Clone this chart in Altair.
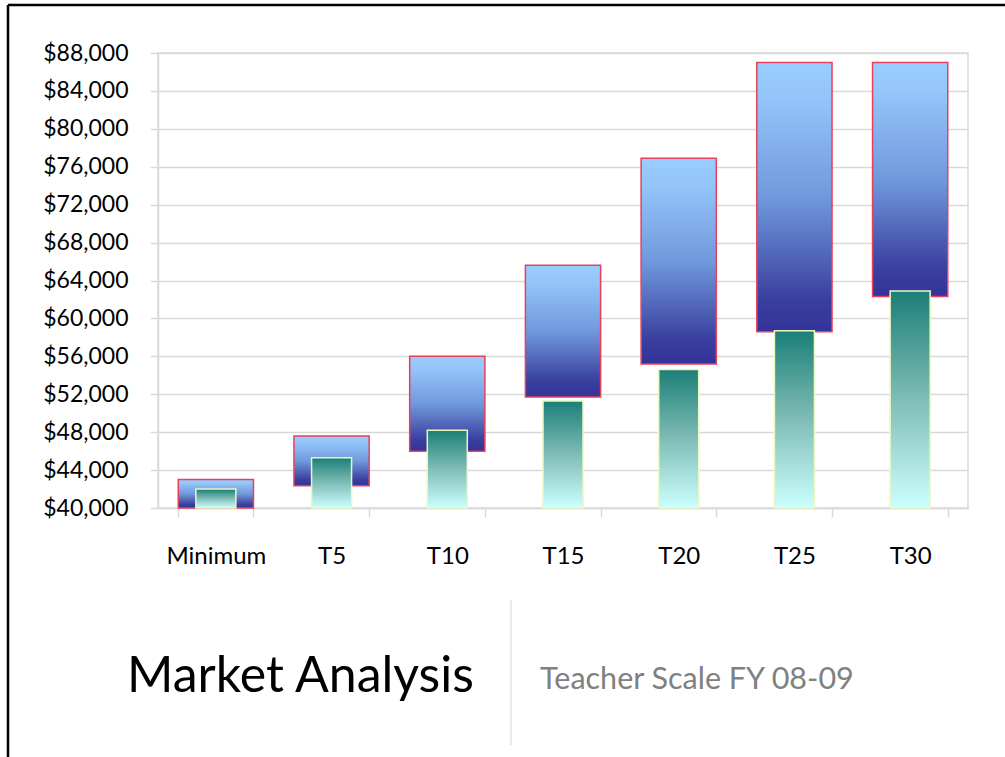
import altair as alt
import pandas as pd

categories = ["Minimum", "T5", "T10", "T15", "T20", "T25", "T30"]
range_low = [40000, 42350, 46000, 51700, 55200, 58600, 62300]
range_high = [43000, 47600, 56000, 65600, 76900, 87000, 87000]
market_high = [42000, 45300, 48200, 51300, 54600, 58700, 62900]
market_low = [40000, 40000, 40000, 40000, 40000, 40000, 40000]
y_ticks = list(range(40000, 88001, 4000))

title_text = "Market Analysis"
subtitle_text = "Teacher Scale FY 08-09"

df = pd.DataFrame({
    "category": categories,
    "low": range_low,
    "high": range_high,
    "mlow": market_low,
    "mhigh": market_high,
})

FONT = "Lato"
GRID = "#d9d9d9"

blue_grad = alt.Gradient(
    gradient="linear",
    stops=[
        alt.GradientStop(color="#99ccff", offset=0),
        alt.GradientStop(color="#95c6fa", offset=0.12),
        alt.GradientStop(color="#7099dd", offset=0.5),
        alt.GradientStop(color="#3a3f9e", offset=0.88),
        alt.GradientStop(color="#333399", offset=1),
    ],
    x1=0, x2=0, y1=0, y2=1,
)
green_grad = alt.Gradient(
    gradient="linear",
    stops=[
        alt.GradientStop(color="#1b7f78", offset=0),
        alt.GradientStop(color="#7fbdb6", offset=0.5),
        alt.GradientStop(color="#ccffff", offset=1),
    ],
    x1=0, x2=0, y1=0, y2=1,
)

x_scale = alt.Scale(paddingInner=0.35, paddingOuter=0.175)
x_axis = alt.Axis(
    labelAngle=0,
    labelFont=FONT,
    labelFontSize=24,
    labelColor="#000000",
    labelPadding=27,
    tickBand="extent",
    tickSize=9,
    tickColor=GRID,
    tickWidth=1.5,
    domainColor=GRID,
    domainWidth=1.5,
    grid=False,
    title=None,
)
y_scale = alt.Scale(domain=[40000, 88000], nice=False, zero=False)
y_axis = alt.Axis(
    values=y_ticks,
    format="$,.0f",
    labelFont=FONT,
    labelFontSize=23,
    labelColor="#000000",
    labelPadding=22,
    labelOverlap=False,
    tickSize=8,
    tickColor=GRID,
    tickWidth=1.5,
    domainColor=GRID,
    domainWidth=1.5,
    gridColor=GRID,
    gridWidth=1.5,
    title=None,
)

blue = alt.Chart(df).mark_bar(
    color=blue_grad, stroke="#e8405a", strokeWidth=1.5
).encode(
    x=alt.X("category:N", sort=categories, scale=x_scale, axis=x_axis, title=None),
    y=alt.Y("low:Q", scale=y_scale, axis=y_axis, title=None),
    y2="high:Q",
)
green = alt.Chart(df).mark_bar(
    color=green_grad, stroke="#eaf8c0", strokeWidth=1.5, size=40
).encode(
    x=alt.X("category:N", sort=categories, scale=x_scale, axis=x_axis, title=None),
    y=alt.Y("mlow:Q", scale=y_scale, axis=y_axis, title=None),
    y2="mhigh:Q",
)

one = alt.Data(values=[{"t": title_text, "s": subtitle_text}])

frame_top = alt.Chart(one).mark_rule(color="#000000", strokeWidth=2.5).encode(
    x=alt.value(-150), x2=alt.value(900), y=alt.value(-48)
)
frame_left = alt.Chart(one).mark_rule(color="#000000", strokeWidth=2.5).encode(
    x=alt.value(-150), y=alt.value(-48), y2=alt.value(760)
)
separator = alt.Chart(one).mark_rule(color="#d4d4d4", strokeWidth=1).encode(
    x=alt.value(353), y=alt.value(547), y2=alt.value(692)
)
title = alt.Chart(one).mark_text(
    font=FONT, fontSize=50, color="#000000", align="left", baseline="alphabetic"
).encode(x=alt.value(-31), y=alt.value(638.5), text="t:N")
subtitle = alt.Chart(one).mark_text(
    font=FONT, fontSize=30.5, color="#808080", align="left", baseline="alphabetic"
).encode(x=alt.value(382), y=alt.value(636), text="s:N")

chart = alt.layer(
    blue, green, frame_top, frame_left, separator, title, subtitle
).properties(
    width=810,
    height=455,
    padding={"left": 158, "top": 53, "right": 37, "bottom": 249},
    autosize=alt.AutoSizeParams(type="none"),
    background="#ffffff",
).configure_view(
    stroke=GRID, strokeWidth=1.5
).configure_axisY(labelOverlap=False)

chart.save("out.html", embed_options={"renderer": "svg", "actions": False})
